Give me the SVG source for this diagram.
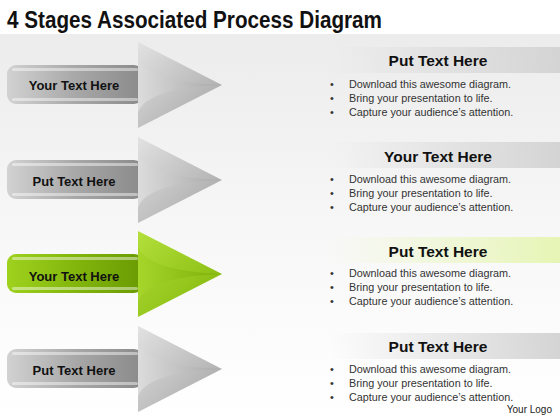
<svg xmlns="http://www.w3.org/2000/svg" width="560" height="420" viewBox="0 0 560 420">
<defs>
<linearGradient id="bg" x1="0" y1="0" x2="0" y2="1">
<stop offset="0" stop-color="#ececec"/><stop offset="0.55" stop-color="#f8f8f8"/><stop offset="1" stop-color="#ffffff"/>
</linearGradient>
<linearGradient id="barG" x1="0" y1="0" x2="1" y2="0">
<stop offset="0" stop-color="#d2d2d2"/><stop offset="0.5" stop-color="#a8a8a8"/><stop offset="1" stop-color="#8a8a8a"/>
</linearGradient>
<linearGradient id="headG" x1="0" y1="0" x2="1" y2="1">
<stop offset="0" stop-color="#e2e2e2"/><stop offset="0.6" stop-color="#bcbcbc"/><stop offset="1" stop-color="#a0a0a0"/>
</linearGradient>
<linearGradient id="innerG" x1="0" y1="0" x2="1" y2="0">
<stop offset="0" stop-color="#dcdcdc"/><stop offset="1" stop-color="#a8a8a8"/>
</linearGradient>
<linearGradient id="barGr" x1="0" y1="0" x2="1" y2="0">
<stop offset="0" stop-color="#9fd21e"/><stop offset="0.5" stop-color="#82b60c"/><stop offset="1" stop-color="#6a9a02"/>
</linearGradient>
<linearGradient id="headGr" x1="0" y1="0" x2="1" y2="1">
<stop offset="0" stop-color="#b4df3c"/><stop offset="0.6" stop-color="#94c61c"/><stop offset="1" stop-color="#7aae08"/>
</linearGradient>
<linearGradient id="innerGr" x1="0" y1="0" x2="1" y2="0">
<stop offset="0" stop-color="#a6d62a"/><stop offset="1" stop-color="#7cae0a"/>
</linearGradient>
<linearGradient id="band" x1="0" y1="0" x2="1" y2="0">
<stop offset="0" stop-color="#d6d6d6" stop-opacity="0"/><stop offset="1" stop-color="#d4d4d4"/>
</linearGradient>
<linearGradient id="bandGr" x1="0" y1="0" x2="1" y2="0">
<stop offset="0" stop-color="#eaf6c0" stop-opacity="0"/><stop offset="1" stop-color="#e6f5b4"/>
</linearGradient>
<style>
.title{font-family:"Liberation Sans",Arial,sans-serif;font-weight:bold;font-size:23px;fill:#111}
.atxt{font-family:"Liberation Sans",Arial,sans-serif;font-weight:bold;font-size:13px;fill:#111;text-anchor:middle}
.head{font-family:"Liberation Sans",Arial,sans-serif;font-weight:bold;font-size:15.5px;fill:#111;text-anchor:middle}
.bul{font-family:"Liberation Sans",Arial,sans-serif;font-size:10.8px;fill:#333}
.logo{font-family:"Liberation Sans",Arial,sans-serif;font-size:10px;fill:#222}
.hl{fill:#ffffff;opacity:0.45}
</style>
</defs>
<rect x="0" y="0" width="560" height="420" fill="#ffffff"/>
<rect x="0" y="34" width="560" height="386" fill="url(#bg)"/>
<text class="title" x="7" y="28" textLength="375" lengthAdjust="spacingAndGlyphs">4 Stages Associated Process Diagram</text>

<g id="arrow1" transform="translate(0,85)">
<rect x="7" y="-20" width="136" height="39" rx="9" fill="url(#barG)"/>
<rect x="12" y="-17" width="126" height="3" rx="1.5" class="hl"/>
<rect x="12" y="13" width="126" height="3" rx="1.5" class="hl"/>
<polygon points="138,-43 138,43 222,0" fill="url(#headG)"/>
<path d="M138,-27 Q148,-3 222,0 Q148,3 138,27 Z" fill="url(#innerG)"/>
<text class="atxt" x="74" y="5">Your Text Here</text>
</g>
<g id="arrow2" transform="translate(0,180)">
<rect x="7" y="-20" width="136" height="39" rx="9" fill="url(#barG)"/>
<rect x="12" y="-17" width="126" height="3" rx="1.5" class="hl"/>
<rect x="12" y="13" width="126" height="3" rx="1.5" class="hl"/>
<polygon points="138,-43 138,43 222,0" fill="url(#headG)"/>
<path d="M138,-27 Q148,-3 222,0 Q148,3 138,27 Z" fill="url(#innerG)"/>
<text class="atxt" x="74" y="6">Put Text Here</text>
</g>
<g id="arrow3" transform="translate(0,274)">
<rect x="7" y="-20" width="136" height="39" rx="9" fill="url(#barGr)"/>
<rect x="12" y="-17" width="126" height="3" rx="1.5" class="hl"/>
<rect x="12" y="13" width="126" height="3" rx="1.5" class="hl"/>
<polygon points="138,-43 138,43 222,0" fill="url(#headGr)"/>
<path d="M138,-27 Q148,-3 222,0 Q148,3 138,27 Z" fill="url(#innerGr)"/>
<text class="atxt" x="74" y="7">Your Text Here</text>
</g>
<g id="arrow4" transform="translate(0,369)">
<rect x="7" y="-20" width="136" height="39" rx="9" fill="url(#barG)"/>
<rect x="12" y="-17" width="126" height="3" rx="1.5" class="hl"/>
<rect x="12" y="13" width="126" height="3" rx="1.5" class="hl"/>
<polygon points="138,-43 138,43 222,0" fill="url(#headG)"/>
<path d="M138,-27 Q148,-3 222,0 Q148,3 138,27 Z" fill="url(#innerG)"/>
<text class="atxt" x="74" y="6">Put Text Here</text>
</g>

<g id="panel1">
<rect x="330" y="47" width="230" height="26" fill="url(#band)"/>
<text class="head" x="438" y="66">Put Text Here</text>
<text class="bul" x="330" y="88">•</text><text class="bul" x="349" y="88">Download this awesome diagram.</text>
<text class="bul" x="330" y="102">•</text><text class="bul" x="349" y="102">Bring your presentation to life.</text>
<text class="bul" x="330" y="116">•</text><text class="bul" x="349" y="116">Capture your audience’s attention.</text>
</g>
<g id="panel2">
<rect x="330" y="142" width="230" height="26" fill="url(#band)"/>
<text class="head" x="438" y="162">Your Text Here</text>
<text class="bul" x="330" y="183">•</text><text class="bul" x="349" y="183">Download this awesome diagram.</text>
<text class="bul" x="330" y="197">•</text><text class="bul" x="349" y="197">Bring your presentation to life.</text>
<text class="bul" x="330" y="211">•</text><text class="bul" x="349" y="211">Capture your audience’s attention.</text>
</g>
<g id="panel3">
<rect x="330" y="237" width="230" height="26" fill="url(#bandGr)"/>
<text class="head" x="438" y="257">Put Text Here</text>
<text class="bul" x="330" y="277">•</text><text class="bul" x="349" y="277">Download this awesome diagram.</text>
<text class="bul" x="330" y="291">•</text><text class="bul" x="349" y="291">Bring your presentation to life.</text>
<text class="bul" x="330" y="305">•</text><text class="bul" x="349" y="305">Capture your audience’s attention.</text>
</g>
<g id="panel4">
<rect x="330" y="333" width="230" height="26" fill="url(#band)"/>
<text class="head" x="438" y="352">Put Text Here</text>
<text class="bul" x="330" y="373">•</text><text class="bul" x="349" y="373">Download this awesome diagram.</text>
<text class="bul" x="330" y="387">•</text><text class="bul" x="349" y="387">Bring your presentation to life.</text>
<text class="bul" x="330" y="401">•</text><text class="bul" x="349" y="401">Capture your audience’s attention.</text>
</g>
<text class="logo" x="552" y="413" text-anchor="end">Your Logo</text>
</svg>
